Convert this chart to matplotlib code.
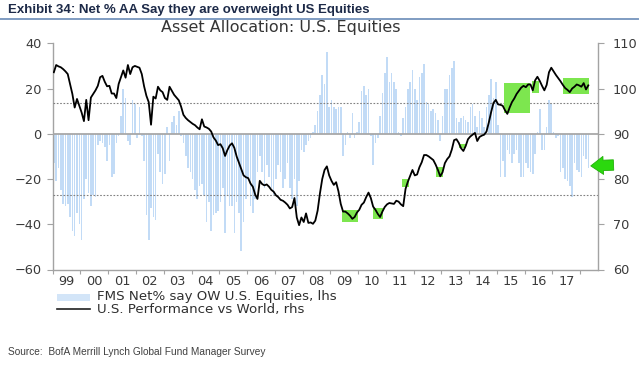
import matplotlib
matplotlib.use("Agg")
import matplotlib.pyplot as plt
import numpy as np
from matplotlib.patches import Rectangle
from matplotlib.lines import Line2D

# ---------------- data (monthly, Jan 1999 .. Apr 2018) ----------------
fms_1999 = [-13, -21, -15, -25, -31, -32, -31, -37, -43, -45, -35, -40]
fms_2000 = [-47, -29, -20, -26, -32, -27, -28, -5, -3, -4, -6, -12]
fms_2001 = [-5, -19, -18, -4, -1, 8, 20, 16, -3, -5, 15, 13]
fms_2002 = [-2, 12, -1, -12, -36, -47, -33, -37, -38, -9, -17, -22]
fms_2003 = [-18, 3, -12, 5, 8, 4, 10, -1, -4, -10, -15, -17]
fms_2004 = [-20, -25, -29, -23, -22, -27, -39, -30, -43, -36, -35, -34]
fms_2005 = [-30, -24, -44, -27, -32, -32, -44, -30, -35, -52, -39, -29]
fms_2006 = [-20, -32, -35, -29, -17, -10, -17, -24, -14, -19, -24, -27]
fms_2007 = [-20, -14, -17, -24, -20, -13, -24, -29, -20, -32, -21, -7]
fms_2008 = [-8, -5, -3, -2, 1, 4, 10, 17, 26, 22, 36, 12]
fms_2009 = [15, 12, 11, 12, 12, -10, -5, 1, -2, 9, -2, 1]
fms_2010 = [5, 19, 21, 17, 20, -1, -14, -4, -2, 8, 18, 27]
fms_2011 = [34, 23, 27, 23, 20, 1, -1, 7, 12, 20, 23, 28]
fms_2012 = [20, 15, 25, 27, 31, 14, 13, 10, 11, 9, 6, -3]
fms_2013 = [8, 20, 20, 26, 29, 32, 7, 5, 7, 8, 6, 5]
fms_2014 = [12, 13, 8, 3, 10, 7, 3, 12, 17, 24, 16, 23]
fms_2015 = [4, -19, -12, -19, -7, -9, -13, -9, -7, -13, -19, -19]
fms_2016 = [-13, -15, -17, -18, -9, 1, 11, -7, -7, 3, 15, 13]
fms_2017 = [1, -2, -1, -17, -15, -20, -21, -23, -28, -13, -16, -17]
fms_2018 = [-19, -10, -11, -15]

perf_1999 = [103.6, 105.2, 104.9, 104.7, 104.3, 103.8, 103.2, 101.0, 98.8, 95.8, 97.7, 96.2]
perf_2000 = [94.7, 92.8, 97.5, 93.0, 98.0, 98.8, 99.6, 100.6, 102.5, 102.8, 101.5, 100.5]
perf_2001 = [100.6, 98.9, 98.9, 97.9, 101.0, 102.5, 104.0, 102.4, 105.2, 103.2, 104.7, 105.0]
perf_2002 = [104.8, 104.6, 103.2, 100.5, 98.4, 97.0, 92.0, 98.2, 97.8, 100.4, 99.6, 99.2]
perf_2003 = [97.9, 97.5, 100.4, 99.5, 98.6, 98.0, 97.4, 96.0, 94.2, 93.5, 93.0, 92.6]
perf_2004 = [92.2, 91.9, 91.4, 91.0, 93.2, 91.6, 91.4, 91.1, 90.5, 89.2, 88.5, 87.5]
perf_2005 = [87.7, 86.8, 85.1, 86.4, 87.4, 87.9, 86.9, 85.0, 83.6, 82.2, 80.8, 80.4]
perf_2006 = [80.2, 79.0, 78.3, 76.6, 75.6, 79.6, 78.9, 78.6, 78.8, 78.3, 77.6, 77.2]
perf_2007 = [76.4, 76.0, 75.4, 75.2, 74.8, 74.3, 73.5, 73.8, 75.8, 71.5, 69.8, 71.5]
perf_2008 = [70.5, 72.4, 70.3, 70.4, 70.1, 70.8, 73.0, 76.8, 80.0, 82.0, 82.8, 80.8]
perf_2009 = [79.6, 78.7, 79.3, 77.3, 74.5, 72.8, 72.8, 72.4, 71.9, 71.2, 71.6, 72.6]
perf_2010 = [73.2, 74.3, 74.8, 76.0, 77.0, 75.8, 73.9, 73.2, 72.3, 71.6, 72.8, 73.8]
perf_2011 = [74.4, 74.7, 74.6, 74.5, 75.2, 75.0, 74.4, 74.0, 77.8, 79.4, 80.7, 82.0]
perf_2012 = [80.8, 81.0, 82.6, 83.7, 85.3, 85.3, 85.0, 84.6, 84.2, 83.2, 82.0, 80.6]
perf_2013 = [81.5, 83.5, 84.4, 85.0, 86.5, 88.6, 88.8, 88.0, 86.8, 86.2, 87.3, 88.8]
perf_2014 = [89.4, 89.8, 90.2, 88.4, 89.3, 89.6, 89.8, 90.5, 92.5, 94.8, 96.8, 97.5]
perf_2015 = [96.5, 96.4, 96.2, 95.2, 94.4, 95.8, 97.0, 97.8, 98.8, 99.5, 100.2, 100.6]
perf_2016 = [100.3, 100.9, 100.9, 99.6, 101.8, 102.6, 101.7, 100.6, 99.6, 100.8, 103.6, 104.6]
perf_2017 = [103.8, 103.0, 102.3, 101.6, 100.8, 100.1, 99.7, 99.2, 100.0, 100.4, 100.9, 100.7]
perf_2018 = [100.4, 101.2, 99.8, 100.7]

fms = (fms_1999 + fms_2000 + fms_2001 + fms_2002 + fms_2003 + fms_2004 + fms_2005 +
       fms_2006 + fms_2007 + fms_2008 + fms_2009 + fms_2010 + fms_2011 + fms_2012 +
       fms_2013 + fms_2014 + fms_2015 + fms_2016 + fms_2017 + fms_2018)
perf = (perf_1999 + perf_2000 + perf_2001 + perf_2002 + perf_2003 + perf_2004 + perf_2005 +
        perf_2006 + perf_2007 + perf_2008 + perf_2009 + perf_2010 + perf_2011 + perf_2012 +
        perf_2013 + perf_2014 + perf_2015 + perf_2016 + perf_2017 + perf_2018)

start_year = 1999
year_labels = ['99', '00', '01', '02', '03', '04', '05', '06', '07', '08', '09',
               '10', '11', '12', '13', '14', '15', '16', '17']
mean_plus_sd = 13.4
mean_minus_sd = -27.0

# highlighted episodes (start year-frac, end year-frac, low, high on rhs)
hl_start = [2009.43, 2010.53, 2011.58, 2012.82, 2013.65, 2015.24, 2016.26, 2017.39]
hl_end = [2010.0, 2010.90, 2011.85, 2013.07, 2013.87, 2016.20, 2016.52, 2018.33]
hl_low = [70.6, 71.1, 78.3, 80.4, 86.9, 94.5, 99.0, 98.8]
hl_high = [73.2, 73.7, 80.1, 82.6, 87.8, 101.2, 101.6, 102.3]

t = start_year + (np.arange(len(fms)) + 0.5) / 12.0

# ---------------- figure ----------------
fig = plt.figure(figsize=(6.4, 3.77), dpi=100)
W, H = 640.0, 377.0
ax = fig.add_axes([52.7 / W, 1 - 269.5 / H, 545.0 / W, 226.2 / H])
ax2 = ax.twinx()

grey = '#a3a3a3'
tickcol = '#3a3a3a'
sans = ['DejaVu Sans']
lib = ['Liberation Sans', 'DejaVu Sans']

ax.bar(t, fms, width=0.058, color='#c2dbf6', linewidth=0, zorder=2)
ax.axhline(0, color='#a8a8a8', lw=1.3, zorder=3)
for lvl in (mean_plus_sd, mean_minus_sd):
    ax.axhline(lvl, color='#808080', lw=0.8, ls=(0, (1.5, 1.5)), zorder=3)

for s, e, lo, hi in zip(hl_start, hl_end, hl_low, hl_high):
    ax2.add_patch(Rectangle((s, lo), e - s, hi - lo, facecolor='#7de64f',
                            edgecolor='none', zorder=1))
ax2.plot(t, perf, color='black', lw=1.3, zorder=3)

ax.set_xlim(1999.0, 2018.63)
ax.set_ylim(-60, 40)
ax2.set_ylim(60, 110)

ax.set_yticks(np.arange(-60, 41, 20))
ax2.set_yticks(np.arange(60, 111, 10))
ax.set_xticks(np.arange(1999, 2019))
ax.set_xticklabels([])
ax.set_xticks(np.arange(1999, 2018) + 0.5, minor=True)
ax.set_xticklabels(year_labels, minor=True)

for a in (ax, ax2):
    a.spines['top'].set_visible(False)
    for sp in ('left', 'right', 'bottom'):
        a.spines[sp].set_color(grey)
        a.spines[sp].set_linewidth(1.0)
ax.spines['right'].set_visible(False)
ax2.spines['left'].set_visible(False)
ax2.spines['bottom'].set_visible(False)

ax.tick_params(axis='y', direction='out', length=4, color=grey, labelsize=9.3,
               labelcolor=tickcol, pad=4)
ax2.tick_params(axis='y', direction='out', length=4, color=grey, labelsize=9.3,
                labelcolor=tickcol, pad=7)
ax.tick_params(axis='x', which='major', direction='out', length=3, color=grey)
ax.tick_params(axis='x', which='minor', length=0, labelsize=9.3, labelcolor=tickcol, pad=4)
for lab in ax.get_yticklabels() + ax2.get_yticklabels() + ax.get_xticklabels(minor=True):
    lab.set_family(sans)

# green arrow pointing at latest reading
ax2.annotate('', xy=(2018.38, 82.9), xytext=(2019.2, 83.1), xycoords='data',
             annotation_clip=False,
             arrowprops=dict(arrowstyle='simple,head_length=0.9,head_width=1.3,tail_width=0.75',
                             mutation_scale=10, facecolor='#2bd80e', edgecolor='#22b00a',
                             lw=0.6, shrinkA=0, shrinkB=0), zorder=5)

# titles
fig.text(8 / W, 1 - 10.5 / H, 'Exhibit 34: Net % AA Say they are overweight US Equities',
         family=lib, fontweight='bold', fontsize=9.55, color='#1d2a48', va='center')
fig.add_artist(Line2D([0, 638 / W], [1 - 19 / H] * 2, color='#7f9cc2', lw=1.4))
fig.text(281 / W, 1 - 27.5 / H, 'Asset Allocation: U.S. Equities', family=sans,
         fontsize=11.5, color='#353535', ha='center', va='center')

# legend (manual)
fig.add_artist(Rectangle((57 / W, 1 - 301 / H), 33 / W, 7 / H, facecolor='#d3e5f8',
                         edgecolor='none', transform=fig.transFigure))
fig.text(97 / W, 1 - 296.5 / H, 'FMS Net% say OW U.S. Equities, lhs', family=sans,
         fontsize=9.6, color='#303030', va='center')
fig.add_artist(Line2D([57 / W, 90 / W], [1 - 308.5 / H] * 2, color='#202020', lw=1.2))
fig.text(97 / W, 1 - 309 / H, 'U.S. Performance vs World, rhs', family=sans,
         fontsize=9.6, color='#303030', va='center')

fig.text(8 / W, 1 - 352 / H, 'Source:  BofA Merrill Lynch Global Fund Manager Survey',
         family=lib, fontsize=7.3, color='#404040', va='center')

fig.savefig('out.png', dpi=100)
